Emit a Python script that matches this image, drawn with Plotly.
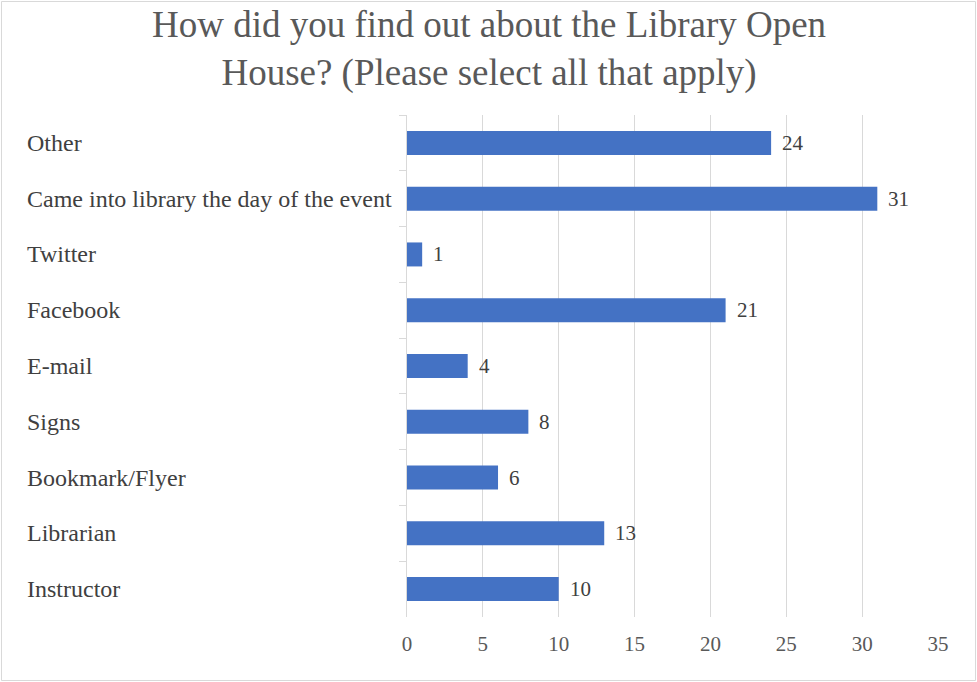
import plotly.graph_objects as go

categories = ["Other", "Came into library the day of the event", "Twitter", "Facebook",
              "E-mail", "Signs", "Bookmark/Flyer", "Librarian", "Instructor"]
values = [24, 31, 1, 21, 4, 8, 6, 13, 10]
x_ticks = [0, 5, 10, 15, 20, 25, 30, 35]
title_text = "How did you find out about the Library Open<br>House? (Please select all that apply)"

SERIF = "Liberation Serif, Times New Roman, serif"
GRID = "#d9d9d9"

fig = go.Figure()
fig.add_trace(go.Bar(
    y=categories, x=values, orientation="h",
    marker=dict(color="#4472C4", line=dict(width=0)),
    hoverinfo="x+y",
))

L, R, T, B = 407, 39, 115, 65
W, H = 977, 682
pw, ph = W - L - R, H - T - B

annotations = []
for c in categories:
    annotations.append(dict(
        x=0, y=c, xref="paper", yref="y", text=c, showarrow=False,
        xanchor="left", xshift=-(L - 25), font=dict(family=SERIF, size=24, color="#404040"),
    ))
for c, v in zip(categories, values):
    annotations.append(dict(
        x=v, y=c, xref="x", yref="y", text=str(v), showarrow=False,
        xanchor="left", xshift=9, font=dict(family=SERIF, size=21, color="#404040"),
    ))
annotations.append(dict(
    x=0.5, xref="paper", xanchor="center", xshift=(W / 2 - (L + pw / 2)),
    y=(H - B - 2) / ph, yref="paper", yanchor="top",
    text=title_text, showarrow=False, align="center",
    font=dict(family=SERIF, size=37, color="#595959"),
))

fig.update_layout(
    width=W, height=H,
    margin=dict(l=L, r=R, t=T, b=B),
    paper_bgcolor="white", plot_bgcolor="white",
    bargap=0.57,
    showlegend=False,
    xaxis=dict(range=[0, 35], tickvals=x_ticks, showgrid=True, gridcolor=GRID, gridwidth=1.3,
               zeroline=False, showline=False, ticks="",
               tickfont=dict(family=SERIF, size=21, color="#595959"),
               ticklabelstandoff=12, fixedrange=True),
    yaxis=dict(autorange="reversed", showticklabels=False, showline=True, linecolor=GRID,
               linewidth=1.3, ticks="outside", tickson="boundaries", ticklen=7, tickcolor=GRID,
               tickwidth=1.3, showgrid=False, fixedrange=True),
    annotations=annotations,
    shapes=[dict(type="rect", xref="paper", yref="paper",
                 x0=(1.5 - L) / pw, x1=(975.5 - L) / pw,
                 y0=(H - B - 680.5) / ph, y1=(H - B - 1.5) / ph,
                 line=dict(color="#d9d9d9", width=1))],
)

fig.write_html("out.html", config={"displayModeBar": False},
               post_script="document.body.style.margin='0';document.body.style.overflow='hidden';")
